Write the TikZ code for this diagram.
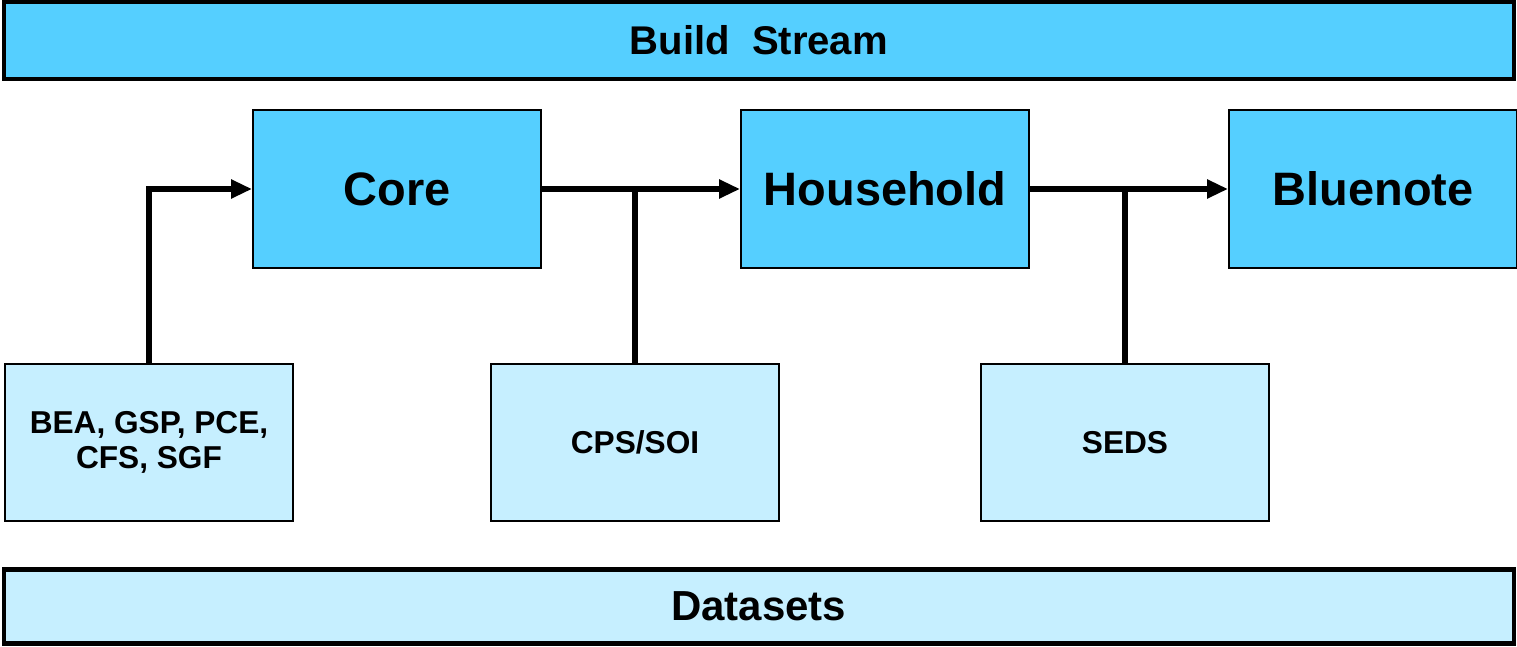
\documentclass[tikz,border=0pt]{standalone}
\usepackage{fontspec}
\setmainfont{Liberation Sans}
\usetikzlibrary{arrows.meta}
\definecolor{stageblue}{HTML}{55CFFF}
\definecolor{sourceblue}{HTML}{C6EFFF}

\begin{document}
\begin{tikzpicture}[
    band/.style={draw, line width=2.3pt, minimum width=30.19cm, font=\bfseries\fontsize{22.8}{26}\selectfont},
    stage/.style={draw, line width=1.1pt, fill=stageblue, minimum width=5.76cm, minimum height=3.16cm, font=\bfseries\fontsize{26.7}{30}\selectfont},
    source/.style={draw, line width=1.1pt, fill=sourceblue, minimum width=5.76cm, minimum height=3.14cm, align=center, font=\bfseries\fontsize{18}{19.9}\selectfont},
    flow/.style={line width=3.6pt, -{Triangle[length=0.42cm, width=0.36cm]}},
    feed/.style={line width=3.6pt}]
  \useasboundingbox (0,0) rectangle (30.34,-12.94);
  \def\stagerow{-3.78}
  \def\sourcerow{-8.85}

  % the two bands
  \node[band, fill=stageblue, minimum height=1.53cm] (build) at (15.175, -0.807) {Build\ \ Stream};
  \node[band, fill=sourceblue, minimum height=1.48cm, font=\bfseries\fontsize{23.9}{27}\selectfont] (datasets) at (15.175, -12.13) {Datasets};

  % build stages
  \node[stage] (core) at (7.94, \stagerow) {Core};
  \node[stage] (household) at (17.70, \stagerow) {Household};
  \node[stage] (bluenote) at (27.46, \stagerow) {Bluenote};

  % input datasets
  \node[source] (bea) at (2.98, \sourcerow) {BEA, GSP, PCE,\\CFS, SGF};
  \node[source] (cps) at (12.70, \sourcerow) {CPS/SOI};
  \node[source] (seds) at (22.50, \sourcerow) {SEDS};

  \draw[flow] (bea.north) |- (core.west);
  \draw[flow] (core.east) -- (household.west);
  \draw[flow] (household.east) -- (bluenote.west);
  \draw[feed] (cps.north) -- (cps.north |- core.east);
  \draw[feed] (seds.north) -- (seds.north |- household.east);
\end{tikzpicture}
\end{document}
